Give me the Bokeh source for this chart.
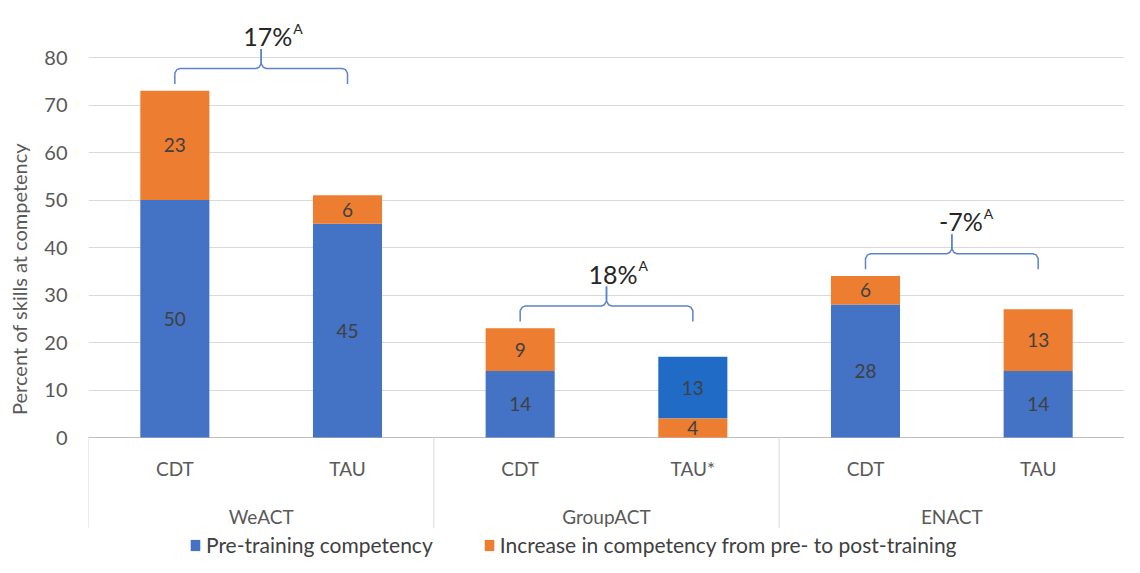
from bokeh.plotting import figure
from bokeh.models import (FactorRange, ColumnDataSource, FixedTicker, Legend, LegendItem,
                          Range1d)
from bokeh.core.properties import value
from bokeh.embed import file_html
from bokeh.resources import INLINE

# ---------------- data ----------------
groups = ["WeACT", "GroupACT", "ENACT"]
arms = ["CDT", "TAU", "CDT", "TAU*", "CDT", "TAU"]
arm_group = ["WeACT", "WeACT", "GroupACT", "GroupACT", "ENACT", "ENACT"]
pre = [50, 45, 14, 13, 28, 14]
increase = [23, 6, 9, 4, 6, 13]
increase_first = [False, False, False, True, False, False]
group_change = ["17%", "18%", "-7%"]
change_note = "A"
y_ticks = [0, 10, 20, 30, 40, 50, 60, 70, 80]
series_names = ["Pre-training competency",
                "Increase in competency from pre- to post-training"]
y_title = "Percent of skills at competency"

# ---------------- style ----------------
FONT_NAME = "Lato"
FONT = value(FONT_NAME)
BLUE = "#4472C4"
BLUE_ALT = "#1F6BC6"
ORANGE = "#ED7D31"
GRID = "#D9D9D9"
TXT = "#595959"
DARK = "#404040"

factors = [(g, a) for g, a in zip(arm_group, arms)]
n_sub = len(arms) // len(groups)

pre_bottom, inc_bottom, pre_col = [], [], []
for p_, i_, f_ in zip(pre, increase, increase_first):
    if f_:
        inc_bottom.append(0)
        pre_bottom.append(i_)
        pre_col.append(BLUE_ALT)
    else:
        pre_bottom.append(0)
        inc_bottom.append(p_)
        pre_col.append(BLUE)

src = ColumnDataSource(dict(
    x=factors,
    arm=arms,
    pre_bottom=pre_bottom,
    pre_top=[b + v for b, v in zip(pre_bottom, pre)],
    inc_bottom=inc_bottom,
    inc_top=[b + v for b, v in zip(inc_bottom, increase)],
    pre_mid=[b + v / 2 for b, v in zip(pre_bottom, pre)],
    inc_mid=[b + v / 2 for b, v in zip(inc_bottom, increase)],
    pre_txt=[str(v) for v in pre],
    inc_txt=[str(v) for v in increase],
    pre_col=pre_col,
))

SUB_Y, GRP_Y, SEP_Y = -6.5, -16.6, -19.0

x_range = FactorRange(factors=factors, factor_padding=0, group_padding=0,
                      range_padding=0)
p = figure(x_range=x_range, y_range=Range1d(-25.26, 92.0), width=1124, height=557,
           output_backend="svg", toolbar_location=None,
           min_border_left=88, min_border_right=0, min_border_top=0,
           min_border_bottom=0)
p.outline_line_color = None
p.background_fill_color = "white"
p.xgrid.grid_line_color = None
p.ygrid.grid_line_color = GRID
p.ygrid.ticker = FixedTicker(ticks=y_ticks)
p.xaxis.visible = False

# y axis
ya = p.yaxis[0]
ya.ticker = FixedTicker(ticks=y_ticks)
ya.axis_line_color = None
ya.major_tick_line_color = None
ya.minor_tick_line_color = None
ya.major_label_text_font = FONT_NAME
ya.major_label_text_font_size = "20px"
ya.major_label_text_color = TXT
ya.major_label_standoff = 15
ya.axis_label = y_title
ya.axis_label_text_font = FONT_NAME
ya.axis_label_text_font_size = "20px"
ya.axis_label_text_font_style = "normal"
ya.axis_label_text_color = TXT
ya.axis_label_standoff = 10

# category axis area: base line, separators, labels
n_all = len(arms)
p.segment(x0=[0], y0=[0], x1=[n_all], y1=[0], line_color="#BFBFBF", line_width=1)
sep_x = [g * n_sub for g in range(len(groups) + 1)]
p.segment(x0=sep_x, y0=[0] * len(sep_x), x1=sep_x, y1=[SEP_Y] * len(sep_x),
          line_color=GRID, line_width=1)
p.text(x="x", y=SUB_Y, text="arm", source=src, text_align="center",
       text_baseline="middle", text_font=FONT, text_font_size="19px",
       text_color=TXT)
p.text(x=[g * n_sub + n_sub / 2 for g in range(len(groups))], y=[GRP_Y] * len(groups),
       text=groups, text_align="center", text_baseline="middle", text_font=FONT,
       text_font_size="19px", text_color=TXT)

# bars
r_pre = p.vbar(x="x", bottom="pre_bottom", top="pre_top", width=0.4, source=src,
               fill_color="pre_col", line_color=None)
r_inc = p.vbar(x="x", bottom="inc_bottom", top="inc_top", width=0.4, source=src,
               fill_color=ORANGE, line_color=None)

for col, txt in (("pre_mid", "pre_txt"), ("inc_mid", "inc_txt")):
    p.text(x="x", y=col, text=txt, source=src, text_align="center",
           text_baseline="middle", text_font=FONT, text_font_size="19px",
           text_color=DARK)

# braces with group change
bxs, bys, tx, ty = [], [], [], []
for g in range(len(groups)):
    tops = [pre[i] + increase[i] for i in range(g * n_sub, (g + 1) * n_sub)]
    top = max(tops)
    L, R, M = g * n_sub + 0.5, g * n_sub + n_sub - 0.5, g * n_sub + n_sub / 2
    yb, yh, yt = top + 1.4, top + 4.7, top + 8.8
    bxs.append([L, L, L + 0.012, L + 0.03, M - 0.03, M - 0.012, M, M])
    bys.append([yb, yh - 1.0, yh - 0.25, yh, yh, yh + 0.25, yh + 1.0, yt])
    bxs.append([R, R, R - 0.012, R - 0.03, M + 0.03, M + 0.012, M, M])
    bys.append([yb, yh - 1.0, yh - 0.25, yh, yh, yh + 0.25, yh + 1.0, yt])
    tx.append(M)
    ty.append(top + 11.5)
p.multi_line(xs=bxs, ys=bys, line_color="#5B84CC", line_width=1.5)
ann = ColumnDataSource(dict(x=tx, y=ty, t=group_change, n=[change_note] * len(tx)))
p.text(x="x", y="y", text="t", source=ann, text_align="right",
       text_baseline="alphabetic", x_offset=31, text_font=FONT,
       text_font_size="25px", text_color="#262626")
p.text(x="x", y="y", text="n", source=ann, text_align="left",
       text_baseline="alphabetic", x_offset=32, y_offset=-8, text_font=FONT,
       text_font_size="14px", text_color="#262626")

legend = Legend(items=[LegendItem(label=series_names[0], renderers=[r_pre], index=0),
                       LegendItem(label=series_names[1], renderers=[r_inc], index=0)],
                orientation="horizontal", location=(101, 0),
                border_line_color=None, background_fill_alpha=0,
                label_text_font=FONT_NAME, label_text_font_size="21px",
                label_text_color=DARK, glyph_width=12, glyph_height=14,
                spacing=50, label_standoff=5, margin=0, padding=0)
p.add_layout(legend, "center")

open("out.html", "w").write(file_html(p, INLINE))
